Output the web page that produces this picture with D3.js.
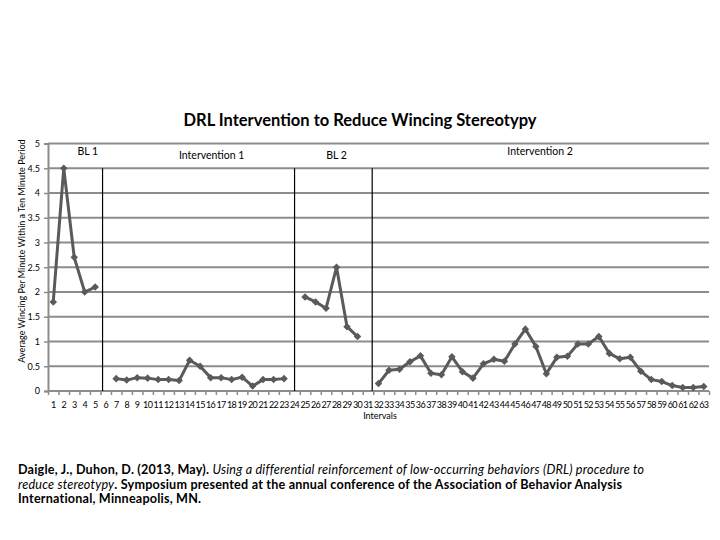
<!DOCTYPE html>
<html>
<head>
<meta charset="utf-8">
<script src="https://cdn.jsdelivr.net/npm/d3@7"></script>
<style>
  body { margin: 0; background: #fff; }
  svg { display: block; }
</style>
</head>
<body>
<svg id="chart" width="720" height="540"></svg>
<script>
// sessions 1..63, null where the phase changes
const intervals = d3.range(1, 64);
const wincing = [
  1.8, 4.5, 2.7, 2.0, 2.1, null,
  0.25, 0.22, 0.27, 0.26, 0.23, 0.23, 0.21, 0.62, 0.5, 0.27, 0.27, 0.23, 0.28, 0.1, 0.23, 0.23, 0.25,
  null,
  1.9, 1.8, 1.67, 2.5, 1.3, 1.1,
  null,
  0.15, 0.42, 0.44, 0.59, 0.71, 0.36, 0.33, 0.69, 0.39, 0.26, 0.55, 0.64, 0.6, 0.95, 1.25, 0.9,
  0.35, 0.68, 0.7, 0.95, 0.95, 1.1, 0.76, 0.65, 0.68, 0.4, 0.23, 0.19, 0.11, 0.07, 0.07, 0.09
];
const yTicks = [0, 0.5, 1, 1.5, 2, 2.5, 3, 3.5, 4, 4.5, 5];
const phaseNames = ['BL 1', 'Intervention 1', 'BL 2', 'Intervention 2'];
const phaseLabelAt = [4.3, 16.1, 28.0, 47.4];   // interval under each label
const phaseChangeAt = [5.7, 24, 31.4];           // interval where the phase line sits

const svg = d3.select('#chart');
const pLeft = 48, pRight = 709, pTop = 143.5, pBottom = 391;

const x = d3.scaleBand().domain(intervals).range([pLeft, pRight]).paddingInner(0);
const xc = (i) => x(i) + x.bandwidth() / 2;
const xLin = d3.scaleLinear().domain([0.5, 63.5]).range([pLeft, pRight]);
const y = d3.scaleLinear().domain([0, 5]).range([pBottom, pTop]);

svg.append('text')
  .attr('x', 360).attr('y', 126)
  .attr('text-anchor', 'middle')
  .style('font-family', 'Lato, sans-serif').style('font-weight', 'bold').style('font-size', '16.5px')
  .text('DRL Intervention to Reduce Wincing Stereotypy');

// grid
svg.append('g').selectAll('line').data(yTicks.filter(d => d > 0)).enter().append('line')
  .attr('x1', pLeft).attr('x2', pRight)
  .attr('y1', d => y(d)).attr('y2', d => y(d))
  .attr('stroke', '#8c8c8c').attr('stroke-width', 2);

// y axis
const yAxis = svg.append('g')
  .attr('transform', 'translate(' + pLeft + ',0)')
  .call(d3.axisLeft(y).tickValues(yTicks).tickSize(4).tickPadding(4).tickFormat(d3.format('')));
yAxis.select('.domain').attr('stroke', '#8c8c8c').attr('stroke-width', 2);
yAxis.selectAll('.tick line').attr('stroke', '#8c8c8c').attr('stroke-width', 1.5);
yAxis.selectAll('text').style('font-family', 'Lato, sans-serif').style('font-size', '9px').attr('fill', '#000');

// x axis: labels centred on bands, ticks on boundaries
const xAxis = svg.append('g')
  .attr('transform', 'translate(0,' + pBottom + ')')
  .call(d3.axisBottom(x).tickSize(0).tickPadding(11));
xAxis.select('.domain').remove();
xAxis.selectAll('text').style('font-family', 'Lato, sans-serif').style('font-size', '9px')
  .attr('fill', '#000').attr('letter-spacing', '-0.6px');

const xTickAxis = svg.append('g')
  .attr('transform', 'translate(0,' + pBottom + ')')
  .call(d3.axisBottom(xLin).tickValues(d3.range(0.5, 64, 1)).tickSize(4).tickFormat(''));
xTickAxis.select('.domain').attr('stroke', '#8c8c8c').attr('stroke-width', 2).attr('d', 'M' + pLeft + ',0H' + pRight);
xTickAxis.selectAll('.tick line').attr('stroke', '#8c8c8c').attr('stroke-width', 1.5);

svg.append('text')
  .attr('x', 380).attr('y', 419).attr('text-anchor', 'middle')
  .style('font-family', 'Lato, sans-serif').style('font-size', '9px')
  .text('Intervals');

svg.append('text')
  .attr('transform', 'translate(25,' + 251 + ') rotate(-90)')
  .attr('text-anchor', 'middle')
  .style('font-family', 'Lato, sans-serif').style('font-size', '9px')
  .text('Average Wincing Per Minute Within a Ten Minute Period');

// phase change lines
svg.append('g').selectAll('line').data(phaseChangeAt).enter().append('line')
  .attr('x1', d => xc(1) + (d - 1) * x.bandwidth()).attr('x2', d => xc(1) + (d - 1) * x.bandwidth())
  .attr('y1', y(4.5)).attr('y2', pBottom)
  .attr('stroke', '#000').attr('stroke-width', 1.2);

svg.append('g').selectAll('text').data(phaseNames).enter().append('text')
  .attr('x', (d, i) => xc(1) + (phaseLabelAt[i] - 1) * x.bandwidth())
  .attr('y', (d, i) => (i === 0 || i === 3) ? 155 : 159)
  .attr('text-anchor', 'middle')
  .style('font-family', 'Lato, sans-serif').style('font-size', '10.5px')
  .text(d => d);

// data
const line = d3.line()
  .defined(d => d != null)
  .x((d, i) => xc(intervals[i]))
  .y(d => y(d));

svg.append('path')
  .datum(wincing)
  .attr('d', line)
  .attr('fill', 'none').attr('stroke', '#5a5a5a').attr('stroke-width', 3).attr('stroke-linejoin', 'round');

svg.append('g').selectAll('path')
  .data(intervals.filter((d, i) => wincing[i] != null)).enter().append('path')
  .attr('d', d3.symbol(d3.symbolDiamond2, 36))
  .attr('transform', d => 'translate(' + xc(d) + ',' + y(wincing[d - 1]) + ')')
  .attr('fill', '#5a5a5a');

// citation
const cite = svg.append('text')
  .style('font-family', 'Lato, sans-serif').style('font-size', '12.6px')
  .attr('letter-spacing', '0.2px').attr('fill', '#000');
const l1 = cite.append('tspan').attr('x', 18).attr('y', 474);
l1.append('tspan').style('font-weight', 'bold').text('Daigle, J., Duhon, D. (2013, May). ');
l1.append('tspan').style('font-style', 'italic').text('Using a differential reinforcement of low-occurring behaviors (DRL) procedure to');
const l2 = cite.append('tspan').attr('x', 18).attr('y', 488.5);
l2.append('tspan').style('font-style', 'italic').text('reduce stereotypy');
l2.append('tspan').style('font-weight', 'bold').text('. Symposium presented at the annual conference of the Association of Behavior Analysis');
cite.append('tspan').attr('x', 18).attr('y', 503).style('font-weight', 'bold')
  .text('International, Minneapolis, MN.');
</script>
</body>
</html>
